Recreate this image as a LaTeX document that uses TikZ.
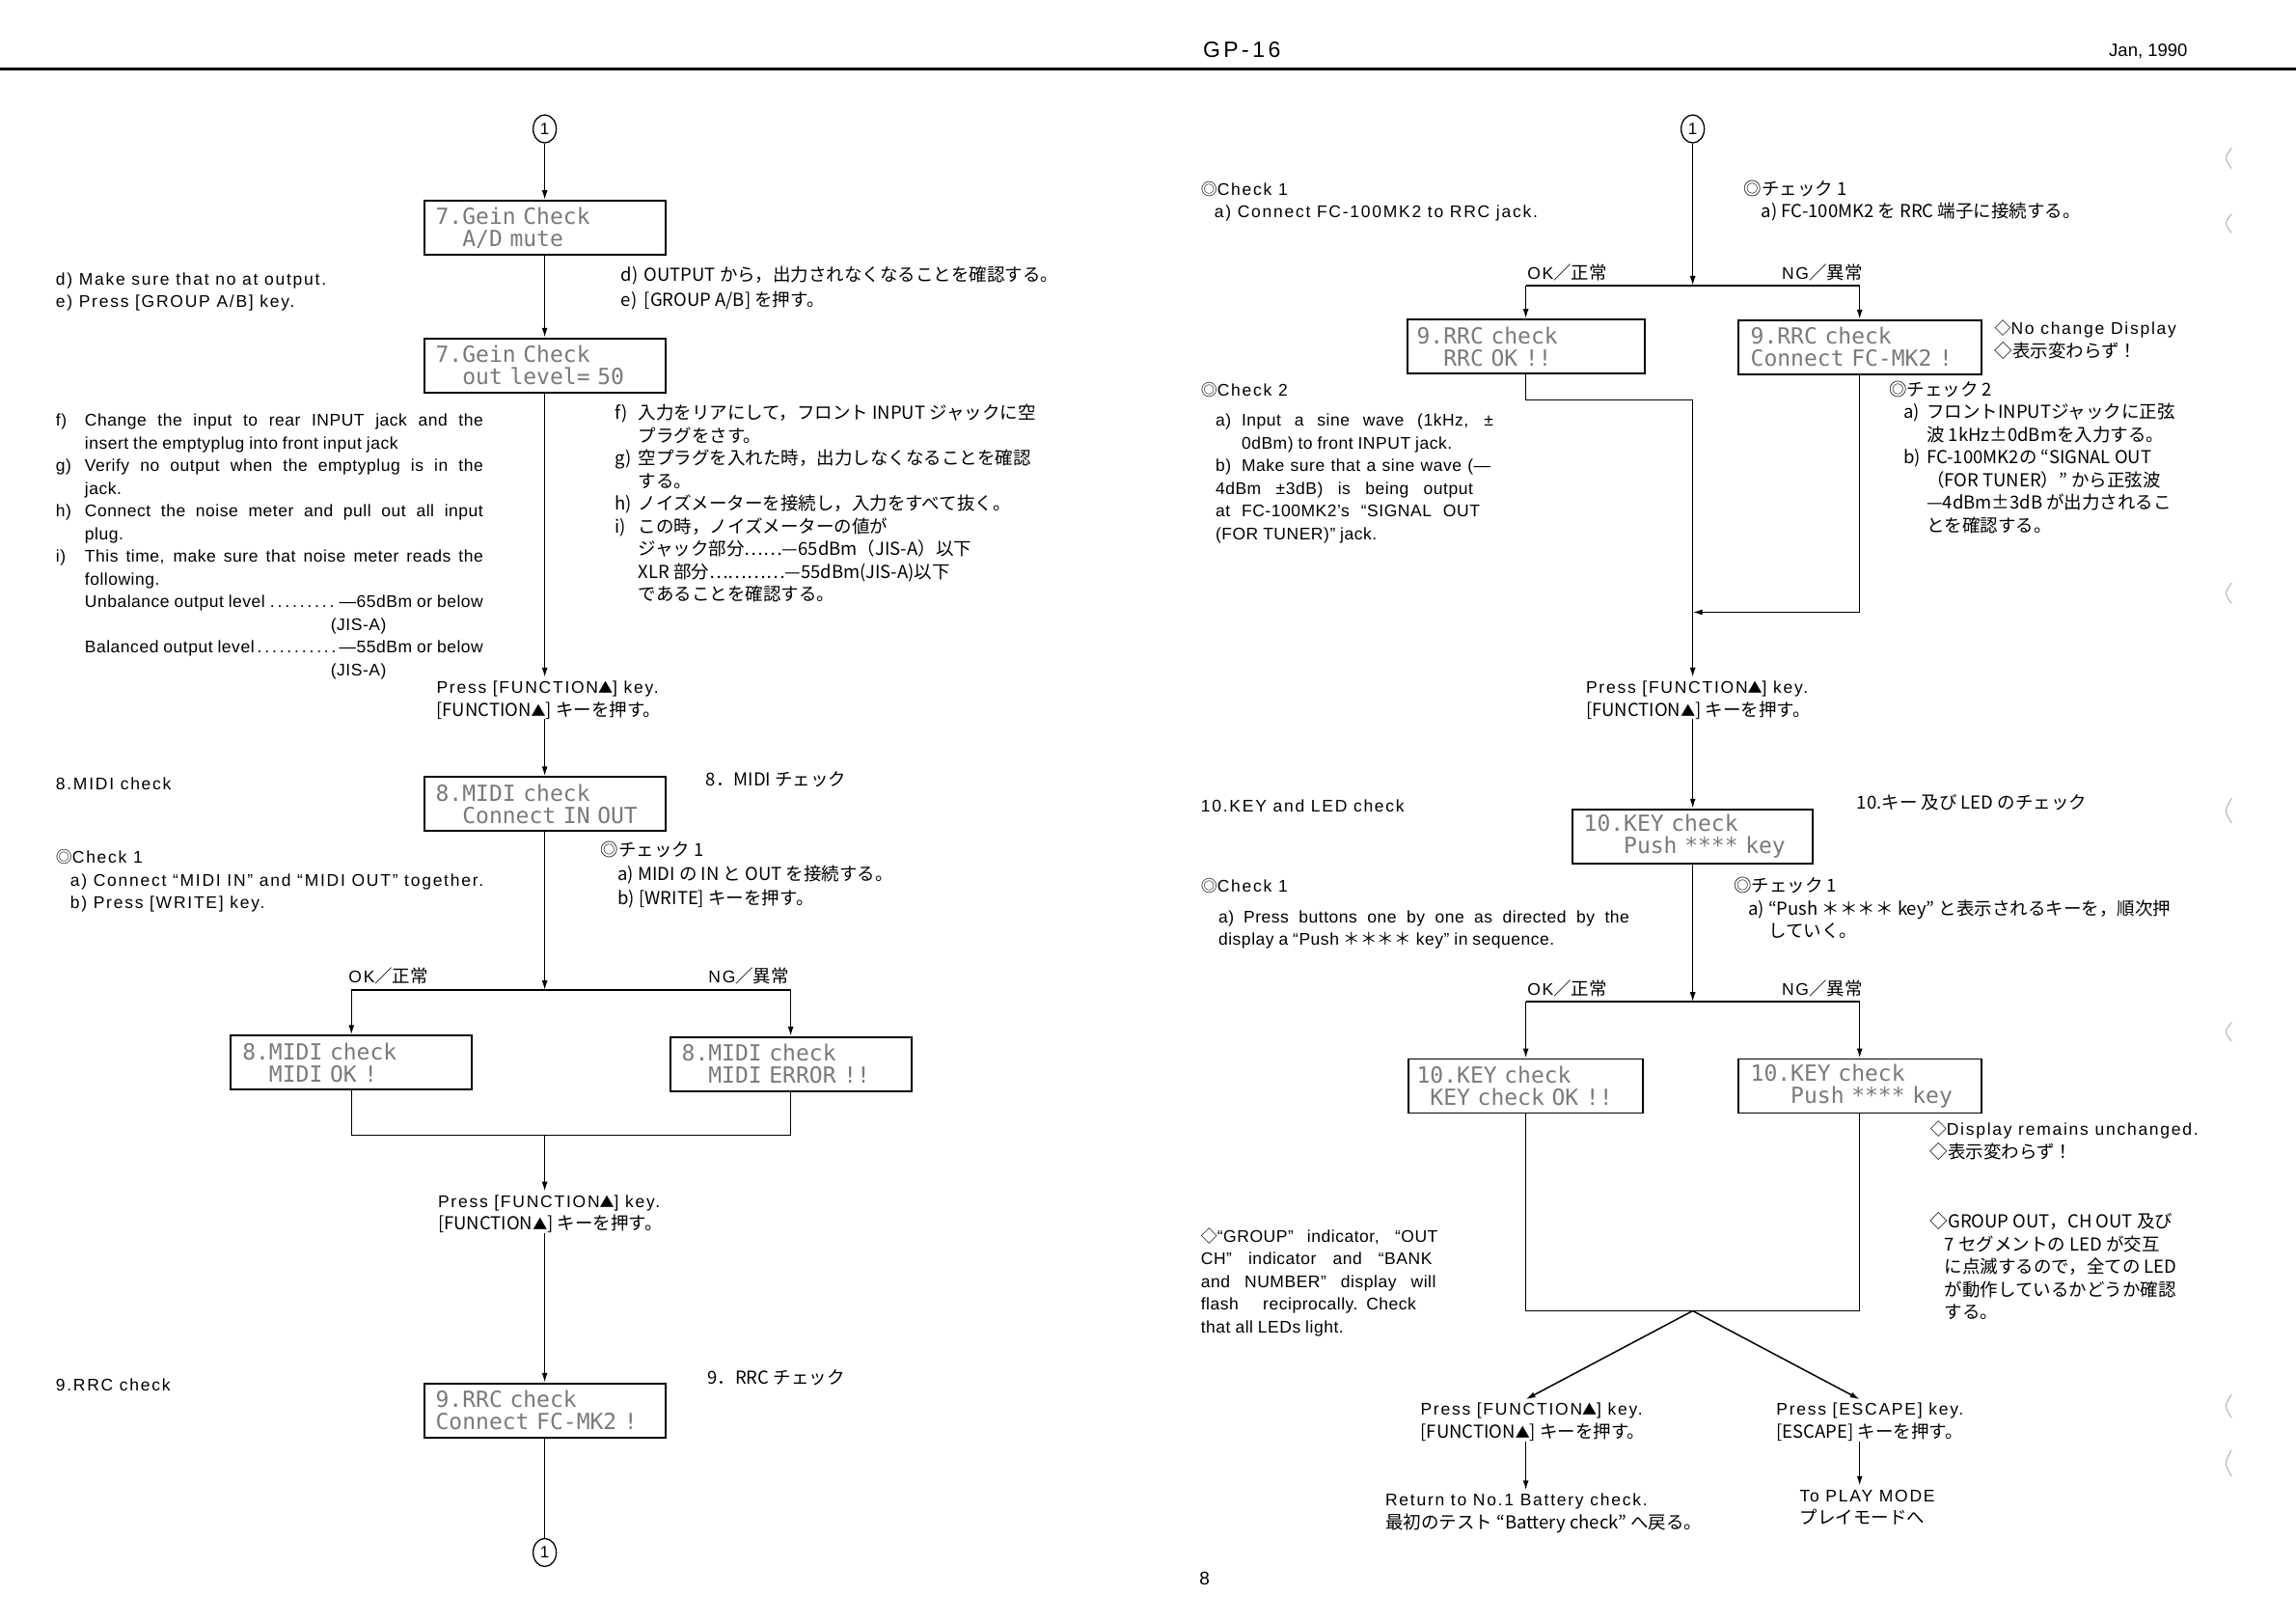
\documentclass[tikz,border=0pt]{standalone}
\usepackage{fontspec}
\setmainfont{Liberation Sans}
\newfontfamily\enf{Liberation Sans}[LetterSpace=10]
\newfontfamily\enjf{Liberation Sans}[LetterSpace=3]
\newfontfamily\hdf{Liberation Sans}
\newfontfamily\hdw{Liberation Sans}[LetterSpace=15]
\newfontfamily\jp{Noto Sans CJK JP}
\newfontfamily\lcdf{DejaVu Sans Mono}
\usetikzlibrary{arrows.meta,shapes.geometric}

\newcommand\en{\enf\fontsize{17.5}{23.5}\selectfont}
\newcommand\enJ{\enjf\fontsize{17.5}{23.5}\selectfont}
\newcommand\ja{\jp\fontsize{18.5}{23.5}\selectfont}
\newcommand\lcdfont{\lcdf\fontsize{23}{23}\selectfont}
\newcommand\tri{{\jp\fontsize{15}{15}\selectfont ▲}}
\newcommand\dia{{\jp\fontsize{17}{17}\selectfont ◇}}
\newcommand\dco{{\jp\fontsize{17}{17}\selectfont ◎}}
\newcommand\st{{\jp ＊＊＊＊}}
\newcommand\itm[3]{\par\noindent\hangindent=#1\hangafter=1 \makebox[#1][l]{\strut#2}#3}
\newcommand\J{\parindent=0pt\leftskip=0pt\rightskip=0pt\parfillskip=0pt plus 1fil\spaceskip=0.28em plus 1em minus 0.05em\tolerance=10000\hbadness=10000\hyphenpenalty=10000\exhyphenpenalty=10000\ignorespaces}
\newcommand\lab[1]{\makebox[24pt][l]{#1}}

\begin{document}
\begin{tikzpicture}[x=1.5179pt,y=-1.5179pt,
  ln/.style={line width=1.5pt},
  arr/.style={line width=1.5pt,-{Latex[length=10pt,width=6pt]}},
  lcd/.style={draw,line width=1.8pt,minimum height=56pt,text width=226pt,inner xsep=12pt,inner ysep=0pt,align=left,font=\lcdfont,text=black!52},
  en/.style={anchor=north west,inner sep=0pt,yshift=10pt,align=left,font=\en},
  ja/.style={anchor=north west,inner sep=0pt,yshift=10pt,align=left,font=\ja},
  blk/.style={anchor=north west,inner sep=0pt,yshift=10pt,font=\enJ},
  circ/.style={draw,ellipse,line width=1.3pt,inner sep=0pt,minimum width=24pt,minimum height=29pt,font=\hdf\fontsize{17}{17}\selectfont},
  lbl/.style={inner sep=0pt,font=\en}]
\useasboundingbox (0,0) rectangle (1568,1108);
\fill[white] (0,0) rectangle (1568,1108);

% ---------- header ----------
\draw[line width=3pt] (0,47) -- (1568,47);
\node[anchor=base,inner sep=0pt,font=\hdw\fontsize{23}{23}\selectfont] (hd) at (848,39) {GP-16};
\node[anchor=base east,inner sep=0pt,font=\hdf\fontsize{18.5}{18.5}\selectfont] (dt) at (1494,38.5) {Jan, 1990};
\node[anchor=base west,inner sep=0pt,font=\hdf\fontsize{19}{19}\selectfont] (pg) at (819,1082) {8};

\foreach \a/\b in {101/115,146/159,398/412,545/562,698/711,952/968,990/1008}
  \draw[black!30,line width=1pt] (1524,\a) .. controls (1519,{(\a+\b)/2}) .. (1524,\b);

% ---------- left page ----------
\node[circ] (c1) at (372,88) {1};
\node[lcd] (b1) at (372,155.5) {7.Gein Check\\\phantom{xx}A/D mute};
\node[lcd] (b2) at (372,249.5) {7.Gein Check\\\phantom{xx}out level= 50};

\node[en] (t1) at (38,190) {\strut d) Make sure that no at output.\\e) Press [GROUP A/B] key.};
\node[ja,font=\jp\fontsize{18.5}{25.5}\selectfont] (t2) at (424,187) {\strut\lab{d)}OUTPUT から，出力されなくなることを確認する。\\\lab{e)}[GROUP A/B] を押す。};

\node[blk,text width=443pt] (t3) at (38,282) {\J%
\itm{30pt}{f)}{Change the input to rear INPUT jack and the\linebreak insert the emptyplug into front input jack}%
\itm{30pt}{g)}{Verify no output when the emptyplug is in the\linebreak jack.}%
\itm{30pt}{h)}{Connect the noise meter and pull out all input\linebreak plug.}%
\itm{30pt}{i)}{This time, make sure that noise meter reads the\linebreak following.}%
\par\noindent\hspace*{30pt}Unbalance output level\dotfill—65dBm or below%
\par\noindent\hspace*{285pt}(JIS-A)%
\par\noindent\hspace*{30pt}Balanced output level\dotfill—55dBm or below%
\par\noindent\hspace*{285pt}(JIS-A)};

\node[ja] (t4) at (420,282) {\strut\lab{f)}入力をリアにして，フロント INPUT ジャックに空\\
\hspace*{24pt}プラグをさす。\\
\lab{g)}空プラグを入れた時，出力しなくなることを確認\\
\hspace*{24pt}する。\\
\lab{h)}ノイズメーターを接続し，入力をすべて抜く。\\
\lab{i)}この時，ノイズメーターの値が\\
\hspace*{24pt}ジャック部分……—65dBm（JIS-A）以下\\
\hspace*{24pt}XLR 部分…………—55dBm(JIS-A)以下\\
\hspace*{24pt}であることを確認する。};

\node[en] (p1) at (298,469) {\strut Press [FUNCTION\tri] key.\\\ja [FUNCTION\tri] キーを押す。};

\node[lcd] (b3) at (372,549) {8.MIDI check\\\phantom{xx}Connect IN OUT};
\node[en] (m8) at (38,535) {\strut 8.MIDI check};
\node[ja] (m8j) at (482,532) {\strut 8．MIDI チェック};
\node[en] (k1) at (38,585) {\strut\dco Check 1\\\hspace*{15pt}a) Connect “MIDI IN” and “MIDI OUT” together.\\\hspace*{15pt}b) Press [WRITE] key.};
\node[ja,font=\jp\fontsize{18.5}{24.8}\selectfont] (k1j) at (410,580) {\strut◎チェック 1\\\hspace*{18pt}a) MIDI の IN と OUT を接続する。\\\hspace*{18pt}b) [WRITE] キーを押す。};

\node[lbl,anchor=base west] (ok1) at (238,671) {OK{\ja ／正常}};
\node[lbl,anchor=base east] (ng1) at (539,671) {NG{\ja ／異常}};
\node[lcd] (b4) at (240,725.5) {8.MIDI check\\\phantom{xx}MIDI OK !};
\node[lcd] (b5) at (540,726.5) {8.MIDI check\\\phantom{xx}MIDI ERROR !!};

\node[en] (p2) at (299,820) {\strut Press [FUNCTION\tri] key.\\\ja [FUNCTION\tri] キーを押す。};
\node[en] (r9) at (38,945) {\strut 9.RRC check};
\node[ja] (r9j) at (483,941) {\strut 9．RRC チェック};
\node[lcd] (b6) at (372,963) {9.RRC check\\Connect FC-MK2 !};
\node[circ] (c3) at (372,1060) {1};

\coordinate (j1) at (372,676);
\coordinate (j2) at (372,775);
\draw[arr] (c1) -- (b1);
\draw[arr] (b1) -- (b2);
\draw[arr] (b2) -- (p1.north -| b2);
\draw[arr] (p1.south -| b3) -- (b3);
\draw[arr] (b3) -- (j1);
\draw[ln] (b4.north |- j1) -- (b5.north |- j1);
\draw[arr] (b4.north |- j1) -- (b4);
\draw[arr] (b5.north |- j1) -- (b5);
\draw[ln] (b4) |- (j2) -| (b5);
\draw[arr] (j2) -- (p2.north -| j2);
\draw[arr] (p2.south -| b6) -- (b6);
\draw[ln] (b6) -- (c3);

% ---------- right page ----------
\node[circ] (c2) at (1156,88) {1};
\node[en] (ck1) at (820,129) {\strut\dco Check 1\\\hspace*{14pt}a) Connect FC-100MK2 to RRC jack.};
\node[ja] (ck1j) at (1191,129) {\strut◎チェック 1\\\hspace*{18pt}a) FC-100MK2 を RRC 端子に接続する。};

\node[lbl,anchor=base west] (ok2) at (1043,190.5) {OK{\ja ／正常}};
\node[lbl,anchor=base east] (ng2) at (1272,190.5) {NG{\ja ／異常}};
\node[lcd,inner xsep=10pt] (b7) at (1042,236.5) {9.RRC check\\\phantom{xx}RRC OK !!};
\node[lcd,inner xsep=13pt] (b8) at (1270,237) {9.RRC check\\Connect FC-MK2 !};
\node[en] (nc) at (1362,224) {\strut\dia No change Display\\\ja ◇表示変わらず！};

\node[en] (ck2) at (820,266) {\strut\dco Check 2};
\node[blk,text width=288pt] (ck2b) at (830,282) {\J%
\itm{27pt}{a)}{Input a sine wave (1kHz, ±\linebreak 0dBm) to front INPUT jack.}%
\itm{27pt}{b)}{Make sure that a sine wave (—\linebreak 4dBm ±3dB) is being output\linebreak at FC-100MK2’s “SIGNAL OUT\linebreak (FOR TUNER)” jack.}};
\node[ja] (ck2j) at (1290,266) {\strut◎チェック 2\\
\hspace*{15pt}\lab{a)}フロントINPUTジャックに正弦\\
\hspace*{39pt}波 1kHz±0dBmを入力する。\\
\hspace*{15pt}\lab{b)}FC-100MK2の “SIGNAL OUT\\
\hspace*{39pt}（FOR TUNER）” から正弦波\\
\hspace*{39pt}—4dBm±3dB が出力されるこ\\
\hspace*{39pt}とを確認する。};

\node[en] (p3) at (1083,469) {\strut Press [FUNCTION\tri] key.\\\ja [FUNCTION\tri] キーを押す。};
\node[en] (k10) at (820,550) {\strut 10.KEY and LED check};
\node[ja] (k10j) at (1268,548) {\strut 10.キー 及び LED のチェック};
\node[lcd,inner xsep=11.5pt] (b9) at (1156,571) {10.KEY check\\\phantom{xxx}Push **** key};

\node[en] (ck3) at (820,605) {\strut\dco Check 1};
\node[blk,text width=437pt] (ck3b) at (832,621) {\J%
\itm{26pt}{a)}{Press buttons one by one as directed by the\linebreak display a “Push \st\ key” in sequence.}};
\node[ja] (ck3j) at (1184,605) {\strut◎チェック 1\\\hspace*{15pt}a) “Push ＊＊＊＊ key” と表示されるキーを，順次押\\\hspace*{36pt}していく。};

\node[lbl,anchor=base west] (ok3) at (1043,679.5) {OK{\ja ／正常}};
\node[lbl,anchor=base east] (ng3) at (1272,679.5) {NG{\ja ／異常}};
\node[lcd,inner xsep=8.5pt] (b10) at (1042,741.5) {10.KEY check\\\phantom{x}KEY check OK !!};
\node[lcd,inner xsep=13pt] (b11) at (1270,741.5) {10.KEY check\\\phantom{xxx}Push **** key};
\node[en] (du) at (1318,771) {\strut\dia Display remains unchanged.\\\ja ◇表示変わらず！};

\node[blk,text width=264pt] (grp) at (820,839) {\J%
\par\noindent\hangindent=27pt\hangafter=1 \strut\dia“GROUP” indicator, “OUT\linebreak CH” indicator and “BANK\linebreak and NUMBER” display will\linebreak flash reciprocally. Check\linebreak that all LEDs light.};
\node[ja] (grpj) at (1318,834) {\strut◇GROUP OUT，CH OUT 及び\\
\hspace*{15pt}7 セグメントの LED が交互\\
\hspace*{15pt}に点滅するので，全ての LED\\
\hspace*{15pt}が動作しているかどうか確認\\
\hspace*{15pt}する。};

\node[en] (p4) at (970,962) {\strut Press [FUNCTION\tri] key.\\\ja [FUNCTION\tri] キーを押す。};
\node[en] (p5) at (1213,962) {\strut Press [ESCAPE] key.\\\ja [ESCAPE] キーを押す。};
\node[en] (r1) at (946,1024) {\strut Return to No.1 Battery check.\\\ja 最初のテスト “Battery check” へ戻る。};
\node[en] (r2) at (1229,1021) {\strut To PLAY MODE\\\ja プレイモードへ};

\coordinate (j3) at (1156,195);
\coordinate (j4) at (1156,273);
\coordinate (j5) at (1156,418);
\coordinate (j6) at (1156,684);
\coordinate (j7) at (1156,895);
\draw[arr] (c2) -- (j3);
\draw[ln] (b7.north |- j3) -- (b8.north |- j3);
\draw[arr] (b7.north |- j3) -- (b7);
\draw[arr] (b8.north |- j3) -- (b8);
\draw[ln] (b7) |- (j4);
\draw[arr] (b8) |- (j5);
\draw[arr] (j4) -- (p3.north -| j4);
\draw[arr] (p3.south -| b9) -- (b9);
\draw[arr] (b9) -- (j6);
\draw[ln] (b10.north |- j6) -- (b11.north |- j6);
\draw[arr] (b10.north |- j6) -- (b10);
\draw[arr] (b11.north |- j6) -- (b11);
\draw[ln] (b10) |- (j7) -| (b11);
\draw[arr] (j7) -- (p4.north -| b10);
\draw[arr] (j7) -- (p5.north -| b11);
\draw[arr] (p4.south -| b10) -- (r1.north -| b10);
\draw[arr] (p5.south -| b11) -- (r2.north -| b11);
\end{tikzpicture}
\end{document}
